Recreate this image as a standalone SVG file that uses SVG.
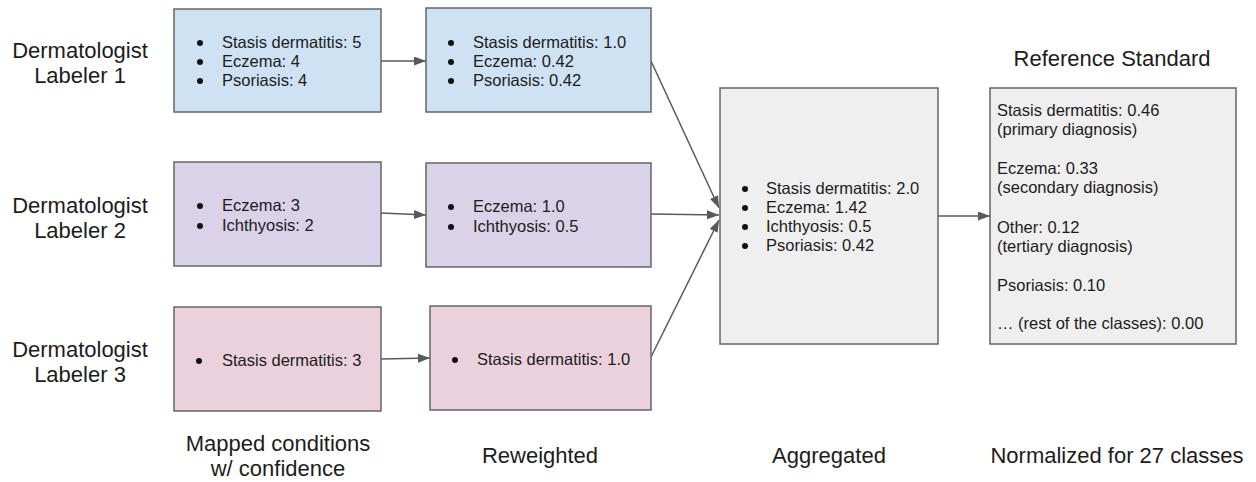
<svg xmlns="http://www.w3.org/2000/svg" width="1256" height="482" viewBox="0 0 1256 482">
<style>
text{font-family:"Liberation Sans",Arial,sans-serif;fill:#1c1c1c}
.t{font-size:16.5px}
.h{font-size:22px;text-anchor:middle}
.box{stroke:#666;stroke-width:1.5}
.blue{fill:#cfe2f3}.purple{fill:#d9d2e9}.pink{fill:#ead1dc}.gray{fill:#efefef}
.b{fill:#111}
.c{stroke:#595959;stroke-width:1.5;fill:none;marker-end:url(#ah)}
</style>
<defs>
<marker id="ah" viewBox="0 0 12 9" refX="12" refY="4.5" markerWidth="12" markerHeight="9" markerUnits="userSpaceOnUse" orient="auto">
<path d="M0,0 L12,4.5 L0,9 z" fill="#595959"/>
</marker>
</defs>
<rect width="1256" height="482" fill="#fff"/>
<g id="labels">
<text class="h" x="80" y="58">Dermatologist</text>
<text class="h" x="80" y="83">Labeler 1</text>
<text class="h" x="80" y="213">Dermatologist</text>
<text class="h" x="80" y="238">Labeler 2</text>
<text class="h" x="80" y="357">Dermatologist</text>
<text class="h" x="80" y="382">Labeler 3</text>
<text class="h" x="278" y="451">Mapped conditions</text>
<text class="h" x="278" y="476">w/ confidence</text>
<text class="h" x="540" y="463">Reweighted</text>
<text class="h" x="829" y="463">Aggregated</text>
<text class="h" x="1117" y="463">Normalized for 27 classes</text>
<text class="h" x="1112" y="66">Reference Standard</text>
</g>
<g id="connectors">
<line class="c" x1="381" y1="61" x2="426" y2="61"/>
<line class="c" x1="381" y1="213" x2="426" y2="215"/>
<line class="c" x1="381" y1="359" x2="430" y2="358"/>
<line class="c" x1="651" y1="61" x2="719" y2="208"/>
<line class="c" x1="651" y1="214" x2="719" y2="215"/>
<line class="c" x1="651" y1="357" x2="719" y2="220"/>
<line class="c" x1="938" y1="216" x2="990" y2="216"/>
</g>
<g id="n1a">
<rect class="box blue" x="174" y="9" width="207" height="103"/>
<circle class="b" cx="200" cy="43" r="3"/><text class="t" x="222" y="48">Stasis dermatitis: 5</text>
<circle class="b" cx="200" cy="62" r="3"/><text class="t" x="222" y="67">Eczema: 4</text>
<circle class="b" cx="200" cy="81" r="3"/><text class="t" x="222" y="86">Psoriasis: 4</text>
</g>
<g id="n1b">
<rect class="box blue" x="426" y="8" width="225" height="104"/>
<circle class="b" cx="451" cy="43" r="3"/><text class="t" x="473" y="48">Stasis dermatitis: 1.0</text>
<circle class="b" cx="451" cy="62" r="3"/><text class="t" x="473" y="67">Eczema: 0.42</text>
<circle class="b" cx="451" cy="81" r="3"/><text class="t" x="473" y="86">Psoriasis: 0.42</text>
</g>
<g id="n2a">
<rect class="box purple" x="174" y="162" width="207" height="104"/>
<circle class="b" cx="200" cy="206" r="3"/><text class="t" x="222" y="211">Eczema: 3</text>
<circle class="b" cx="200" cy="226" r="3"/><text class="t" x="222" y="231">Ichthyosis: 2</text>
</g>
<g id="n2b">
<rect class="box purple" x="426" y="163" width="225" height="104"/>
<circle class="b" cx="451" cy="207" r="3"/><text class="t" x="473" y="212">Eczema: 1.0</text>
<circle class="b" cx="451" cy="227" r="3"/><text class="t" x="473" y="232">Ichthyosis: 0.5</text>
</g>
<g id="n3a">
<rect class="box pink" x="174" y="307" width="207" height="104"/>
<circle class="b" cx="199" cy="361" r="3"/><text class="t" x="222" y="366">Stasis dermatitis: 3</text>
</g>
<g id="n3b">
<rect class="box pink" x="430" y="306" width="221" height="104"/>
<circle class="b" cx="455" cy="360" r="3"/><text class="t" x="477" y="365">Stasis dermatitis: 1.0</text>
</g>
<g id="agg">
<rect class="box gray" x="720" y="88" width="218" height="256"/>
<circle class="b" cx="745" cy="189" r="3"/><text class="t" x="766" y="194">Stasis dermatitis: 2.0</text>
<circle class="b" cx="745" cy="208" r="3"/><text class="t" x="766" y="213">Eczema: 1.42</text>
<circle class="b" cx="745" cy="227" r="3"/><text class="t" x="766" y="232">Ichthyosis: 0.5</text>
<circle class="b" cx="745" cy="246" r="3"/><text class="t" x="766" y="251">Psoriasis: 0.42</text>
</g>
<g id="ref">
<rect class="box gray" x="990" y="88" width="246" height="256"/>
<text class="t" x="997" y="116">Stasis dermatitis: 0.46</text>
<text class="t" x="997" y="135">(primary diagnosis)</text>
<text class="t" x="997" y="174">Eczema: 0.33</text>
<text class="t" x="997" y="193">(secondary diagnosis)</text>
<text class="t" x="997" y="233">Other: 0.12</text>
<text class="t" x="997" y="252">(tertiary diagnosis)</text>
<text class="t" x="997" y="291">Psoriasis: 0.10</text>
<text class="t" x="997" y="329">… (rest of the classes): 0.00</text>
</g>
</svg>
